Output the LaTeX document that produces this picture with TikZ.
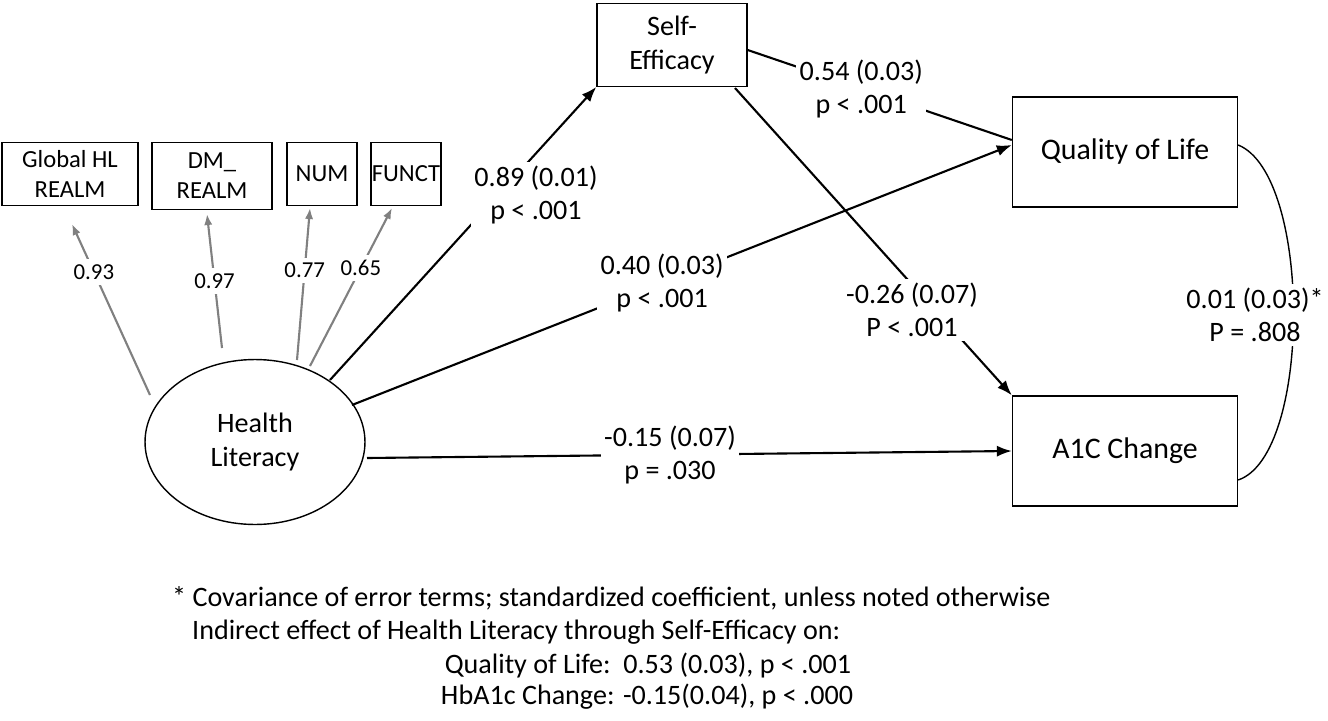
\documentclass[tikz,border=0pt]{standalone}
\usepackage{fontspec}
\setmainfont{Carlito}
\usetikzlibrary{arrows.meta,shapes.geometric}
\begin{document}
\begin{tikzpicture}[
      x = 0.02cm, y = -0.02cm,
      font = \fontsize{16}{19}\selectfont,
      box/.style = {
        rectangle,
        draw = black, thick,
        align = center,
        inner sep = 0,
      },
      ind/.style = {
        box,
        font = \fontsize{14}{17}\selectfont,
        minimum height = 1.25cm,
      },
      coef/.style = {
        fill = white,
        align = center,
        inner sep = 2pt,
      },
      load/.style = {
        fill = white,
        text = black,
        font = \fontsize{13}{15}\selectfont,
        inner sep = 3pt,
      },
      path/.style = {very thick, -{Latex[length=3mm]}},
      loadline/.style = {gray, very thick, -{Latex[length=2.2mm]}},
    ]
    \useasboundingbox (0,0) rectangle (1328,720);
    % observed indicators
    \node[ind, minimum width = 2.72cm] (ghl) at (70,174) {Global HL\\REALM};
    \node[ind, minimum width = 2.4cm, minimum height = 1.35cm] (dm) at (212,176) {DM\_\\REALM};
    \node[ind, minimum width = 1.4cm] (num) at (322,174) {NUM};
    \node[ind, minimum width = 1.4cm] (funct) at (406,174) {FUNCT};
    % latent and outcomes
    \node[ellipse, draw, thick, minimum width = 4.4cm, minimum height = 3.3cm, align = center] (hl) at (255,442) {Health\\Literacy};
    \node[box, minimum width = 3cm, minimum height = 1.65cm] (se) at (672,45) {Self-\\Efficacy};
    \node[box, minimum width = 4.5cm, minimum height = 2.2cm, font = \fontsize{17}{20}\selectfont] (qol) at (1125,152) {Quality of Life};
    \node[box, minimum width = 4.5cm, minimum height = 2.2cm, font = \fontsize{17}{20}\selectfont] (a1c) at (1125,451) {A1C Change};
    % loadings
    \draw[loadline] (150,395) -- node[load, pos = .72] {0.93} (72,224);
    \draw[loadline] (222,348) -- node[load, pos = .5] {0.97} (207,214);
    \draw[loadline] (297,360) -- node[load, pos = .59] {0.77} (310,208);
    \draw[loadline] (310,366) -- node[load, pos = .62] {0.65} (392,208);
    % structural paths
    \coordinate (hlse) at (330,380);
    \coordinate (hlqol) at (352,405);
    \coordinate (hla1c) at (367,458);
    \draw[path] (hlse) -- (se.south west);
    \node[coef] at (536,195) {0.89 (0.01)\\p < .001};
    \draw[path] (hlqol) -- node[coef, pos = .47] {0.40 (0.03)\\p < .001} (qol.west |- 0,145);
    \draw[path] (hla1c) -- node[coef, pos = .47] {-0.15 (0.07)\\p = .030} (a1c.west);
    \draw[very thick] (se.east |- 0,50) -- node[coef, pos = .43] {0.54 (0.03)\\p < .001} (qol.west |- 0,140);
    \draw[path] (735,88) -- (a1c.north west);
    \node[coef] at (912,310) {-0.26 (0.07)\\P < .001};
    % covariance
    \draw[thick] (qol.east |- 0,145) .. controls (1312,175) and (1312,455) .. (a1c.east |- 0,480);
    \node[coef] at (1255,315) {0.01 (0.03)*\\P = .808};
    % footnote
    \node[anchor = west] (note1) at (166,598) {* Covariance of error terms; standardized coefficient, unless noted otherwise};
    \node[anchor = west] (note2) at (186,632) {Indirect effect of Health Literacy through Self-Efficacy on:};
    \node (note3) at (648,665) {Quality of Life:\ \ 0.53 (0.03), p < .001};
    \node (note4) at (647,697) {HbA1c Change: -0.15(0.04), p < .000};
\end{tikzpicture}
\end{document}
